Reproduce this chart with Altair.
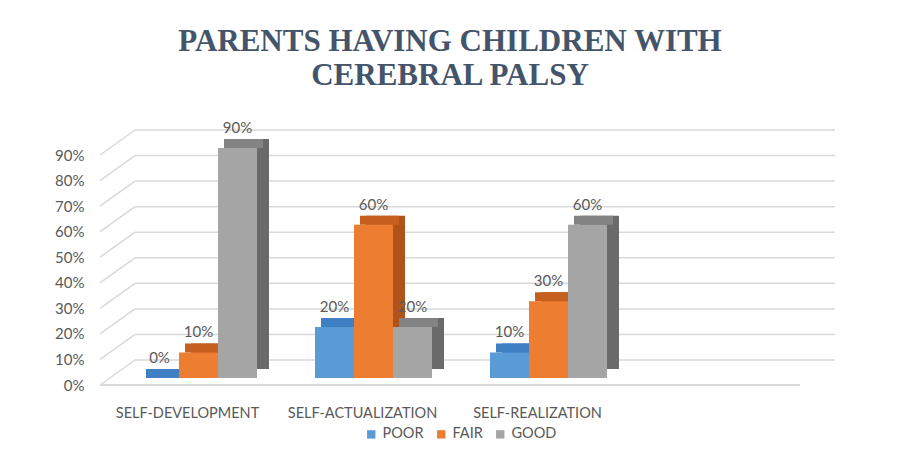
import altair as alt
import pandas as pd

categories = ["SELF-DEVELOPMENT", "SELF-ACTUALIZATION", "SELF-REALIZATION"]
series = ["POOR", "FAIR", "GOOD"]
poor = [0.0, 0.2, 0.1]
fair = [0.1, 0.6, 0.3]
good = [0.9, 0.2, 0.6]
tick_values = [0.0, 0.1, 0.2, 0.3, 0.4, 0.5, 0.6, 0.7, 0.8, 0.9]

front_colors = ["#5b9bd5", "#ed7d31", "#a5a5a5"]
side_colors = ["#2e6db0", "#b0531a", "#6a6a6a"]
top_colors = ["#3f7fc4", "#c65f20", "#838383"]

rows = []
for i, c in enumerate(categories):
    for s, vals in zip(series, [poor, fair, good]):
        rows.append({"cat": c, "series": s, "value": vals[i]})
df = pd.DataFrame(rows)
ticks_df = pd.DataFrame({"tick": tick_values})

W, H = 700, 230
BW = 39               # bar width
DX, DY = 12, 9        # bar depth
BX, BY = 11, -7       # bar position inside the 3D box
WX, WY = 35, -25      # back wall shift
TXT = "#595959"
FONT = "Lato"

x_domain = categories + [" "]
xscale = alt.Scale(domain=x_domain, paddingInner=0.33, paddingOuter=0.165)
yscale = alt.Scale(domain=[0, 0.9], nice=False)

x_axis = alt.Axis(labelFontSize=14.5, labelColor=TXT, labelFont=FONT, labelPadding=21,
                  domain=False, ticks=False, labelAngle=0, title=None)
y_axis = alt.Axis(values=tick_values, format=".0%", labelFontSize=15, labelColor=TXT,
                  labelFont=FONT, labelPadding=16, domain=False, ticks=False, grid=False,
                  title=None)

Y = alt.Y("value:Q", scale=yscale, axis=y_axis)

def X(axis=None):
    return alt.X("cat:N", scale=xscale, sort=x_domain, axis=axis)

legend = alt.Legend(title=None, orient="none", legendX=264, legendY=272,
                    direction="horizontal", symbolType="square", symbolSize=70,
                    labelFontSize=14.5, labelColor=TXT, labelFont=FONT, labelFontWeight="normal",
                    columnPadding=10, labelOffset=4, padding=0)

sides, tops, fronts, labels = [], [], [], []
for k, s in enumerate(series):
    b = alt.Chart(df).transform_filter(alt.datum.series == s)
    shift = BX + (k - 1) * BW
    sides.append(b.mark_bar(width=BW, xOffset=shift + DX, yOffset=BY - DY, y2Offset=BY - DY).encode(
        x=X(x_axis), y=Y,
        color=alt.Color("series:N", scale=alt.Scale(domain=series, range=side_colors), legend=None),
    ))
    tops.append(b.mark_bar(width=BW, xOffset=shift + DX / 2, yOffset=BY - DY, y2Offset=BY).encode(
        x=X(x_axis), y=Y, y2=alt.Y2("value:Q"),
        color=alt.Color("series:N", scale=alt.Scale(domain=series, range=top_colors), legend=None),
    ))
    fronts.append(b.mark_bar(width=BW, xOffset=shift, yOffset=BY, y2Offset=BY).encode(
        x=X(x_axis), y=Y,
        color=alt.Color("series:N", scale=alt.Scale(domain=series, range=front_colors),
                        legend=legend if k == 0 else None),
    ))
    labels.append(b.mark_text(xOffset=shift, yOffset=BY, dy=-12, baseline="bottom", fontSize=15,
                              color=TXT, font=FONT).encode(
        x=X(x_axis), y=Y, text=alt.Text("value:Q", format=".0%"),
    ))

grid_back = alt.Chart(ticks_df).mark_rule(yOffset=WY, color="#d9d9d9", strokeWidth=1.5).encode(
    y=alt.Y("tick:Q", scale=yscale, axis=y_axis),
    x=alt.value(WX), x2=alt.value(W + WX),
)
grid_diag = alt.Chart(ticks_df).mark_rule(y2Offset=WY, color="#d9d9d9", strokeWidth=1.5).encode(
    y=alt.Y("tick:Q", scale=yscale, axis=y_axis),
    y2=alt.Y2("tick:Q"),
    x=alt.value(0), x2=alt.value(WX),
)
floor = alt.Chart(ticks_df).mark_rule(color="#d9d9d9", strokeWidth=1.5).encode(
    y=alt.Y(datum=0, scale=yscale, axis=y_axis),
    x=alt.value(0), x2=alt.value(W),
)

chart = alt.layer(grid_back, grid_diag, floor, *sides, *tops, *fronts, *labels).resolve_scale(
    color="independent"
).properties(
    width=W, height=H,
    title=alt.TitleParams(
        text=["PARENTS HAVING CHILDREN WITH", "CEREBRAL PALSY"],
        font="Liberation Serif", fontSize=31, fontWeight="bold", color="#44546a",
        anchor="middle", frame="group", offset=29, lineHeight=34,
    ),
    autosize=alt.AutoSizeParams(type="none"),
    padding={"left": 92, "top": 147, "right": 89, "bottom": 66},
).configure(background="white").configure_view(stroke=None)

chart.save("out.html", embed_options={"renderer": "svg", "actions": False})
